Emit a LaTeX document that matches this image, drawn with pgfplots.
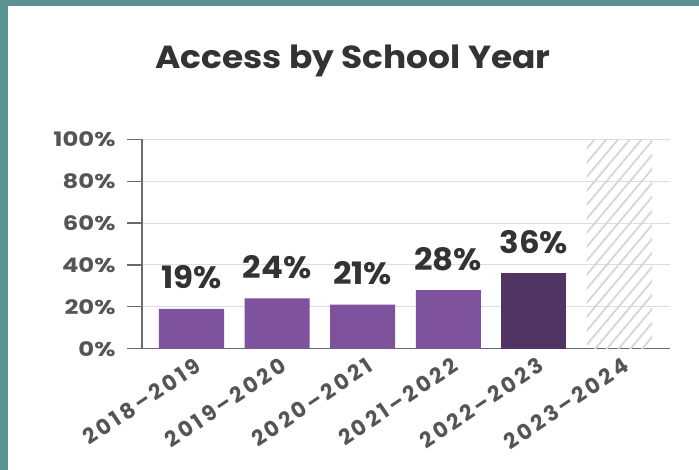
\documentclass[border=0pt]{standalone}
\usepackage{fontspec}
\setmainfont{Poppins}
\newfontfamily\titlefont{Poppins}[FakeStretch=1.08]
\newfontfamily\tickfont{Poppins}[FakeStretch=1.22]
\newfontfamily\xtickfont{Poppins}[LetterSpace=15]
\newfontfamily\labelfont{Poppins}[FakeStretch=1.05]
\usepackage{pgfplots}
\pgfplotsset{compat=1.18}
\usetikzlibrary{patterns.meta}

\definecolor{frame}{HTML}{5A9291}
\definecolor{barpurple}{HTML}{7E529C}
\definecolor{bardark}{HTML}{4F3464}
\definecolor{textdark}{HTML}{333333}
\definecolor{ticktext}{HTML}{555555}
\definecolor{axisgray}{HTML}{6A6A6A}
\definecolor{gridgray}{HTML}{DDDDDD}
\definecolor{hatch}{HTML}{D6D6D6}

\begin{document}
\begin{tikzpicture}
\useasboundingbox (0,0) rectangle (699bp,470bp);
\fill[white] (0,0) rectangle (699bp,470bp);
\fill[frame] (0,0) rectangle (8bp,470bp);
\fill[frame] (0,464bp) rectangle (699bp,470bp);

\node[font=\titlefont\bfseries\fontsize{32}{38}\selectfont, text=textdark, anchor=base]
  at (353bp,401bp) {Access by School Year};

\begin{axis}[
  at={(142bp,121.3bp)}, anchor=south west,
  scale only axis, width=528bp, height=209.4bp,
  xmin=-0.578, xmax=5.59, ymin=0, ymax=100,
  separate axis lines,
  axis x line*=bottom, axis y line*=left,
  axis line style={-, draw=axisgray, line width=1.2bp},
  ymajorgrids, grid style={draw=gridgray, line width=1bp},
  ytick={0,20,40,60,80,100},
  yticklabel={\pgfmathprintnumber{\tick}\%},
  xtick={0,1,2,3,4,5},
  xticklabels={2018–2019,2019–2020,2020–2021,2021–2022,2022–2023,2023–2024},
  /pgf/number format/assume math mode=true,
  tick align=outside, major tick length=15bp,
  y tick style={draw=axisgray, line width=1.2bp},
  x tick style={draw=none},
  yticklabel style={font=\tickfont\bfseries\fontsize{20}{22}\selectfont, text=ticktext,
    xshift=-8bp},
  xticklabel style={font=\xtickfont\bfseries\fontsize{21.5}{24}\selectfont, text=ticktext,
    rotate=34, anchor=north east, inner sep=1bp, xshift=7bp, yshift=6bp},
  ybar, bar width=0.76,
  every node near coord/.append style={font=\labelfont\bfseries\fontsize{31}{36}\selectfont,
    text=textdark, anchor=base, yshift=20bp},
]
\addplot[draw=none, fill=barpurple, bar shift=0pt,
  nodes near coords={\pgfmathprintnumber{\pgfplotspointmeta}\%}]
  coordinates {(0,19) (1,24) (2,21) (3,28)};
\addplot[draw=none, fill=bardark, bar shift=0pt,
  nodes near coords={\pgfmathprintnumber{\pgfplotspointmeta}\%}]
  coordinates {(4,36)};
\addplot[draw=none, bar shift=0pt,
  pattern={Lines[angle=50,distance=9bp,line width=1.8bp]}, pattern color=hatch]
  coordinates {(5,100)};
\end{axis}
\end{tikzpicture}
\end{document}
